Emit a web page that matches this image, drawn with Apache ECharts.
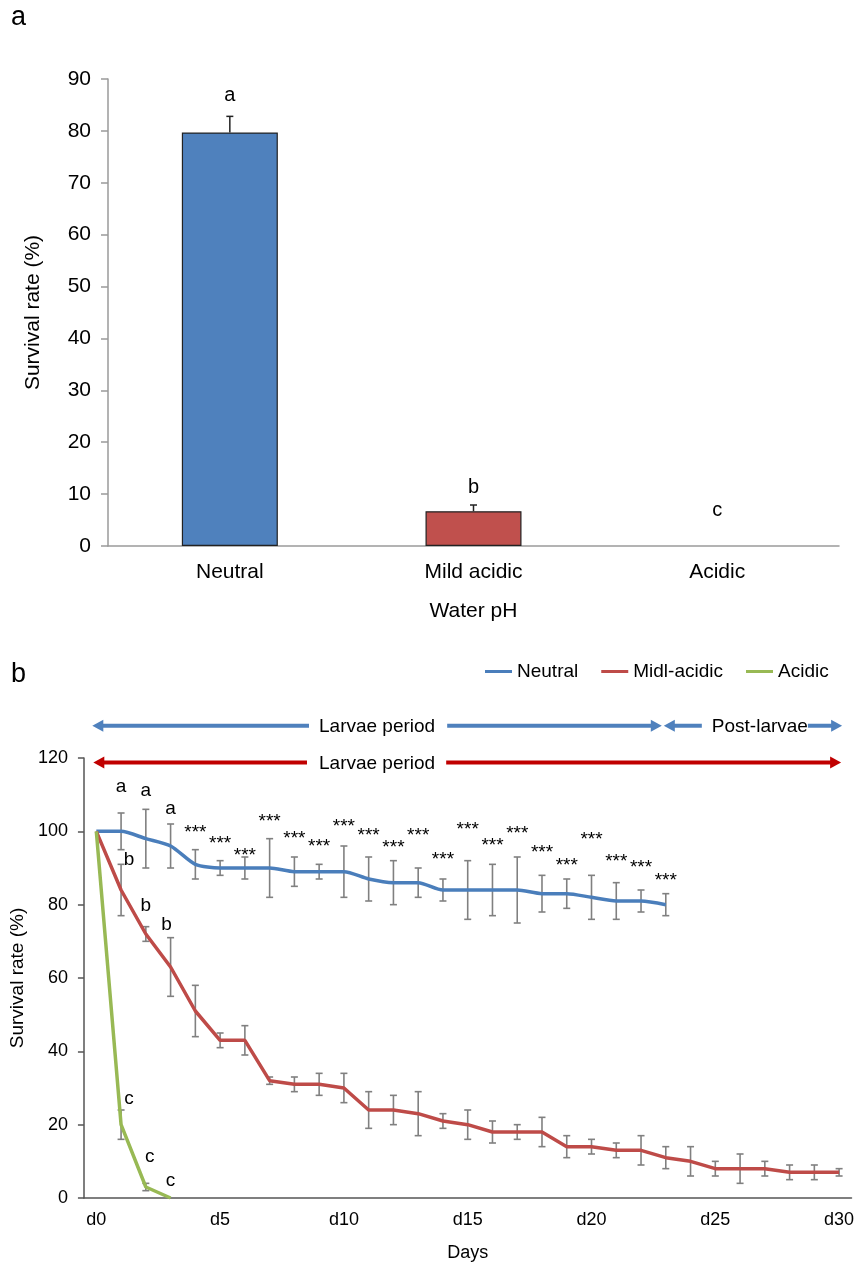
<!DOCTYPE html>
<html><head><meta charset="utf-8">
<script src="https://cdn.jsdelivr.net/npm/echarts@6/dist/echarts.min.js"></script>
<style>html,body{margin:0;padding:0;background:#fff}#c{width:857px;height:1268px}</style>
</head><body><div id="c"></div>
<script>
// ---------- Panel a data ----------
const phCategories = ['Neutral', 'Mild acidic', 'Acidic'];
const phSurvival = [79.7, 6.7, 0];
const phError = [3.1, 1.2, 0];
const phLetters = ['a', 'b', 'c'];
const phLetterHeights = [87.2, 11.6, 7.2];

// ---------- Panel b data ----------
const days = ['d0','d1','d2','d3','d4','d5','d6','d7','d8','d9','d10','d11','d12','d13','d14','d15',
  'd16','d17','d18','d19','d20','d21','d22','d23','d24','d25','d26','d27','d28','d29','d30'];
const neutral = [100,100,98,96,91,90,90,90,89,89,89,87,86,86,84,84,84,84,83,83,82,81,81,80];
const neutralErr = [0,5,8,6,4,2,3,8,4,2,7,6,6,4,3,8,7,9,5,4,6,5,3,3];
const mildAcidic = [100,84,72,63,51,43,43,32,31,31,30,24,24,23,21,20,18,18,18,14,14,13,13,11,10,8,8,8,7,7,7];
const mildAcidicErr = [0,7,2,8,7,2,4,1,2,3,4,5,4,6,2,4,3,2,4,3,2,2,4,3,4,2,4,2,2,2,1];
const acidic = [100,20,3,0];
const acidicErr = [0,4,1,0];

// significance annotations: [day index, height in %, text]
const neutralMarks = [[1,112.7,'a'],[2,111.4,'a'],[3,106.5,'a'],
  [4,100.9,'***'],[5,98,'***'],[6,94.7,'***'],[7,104,'***'],[8,99.4,'***'],[9,97.1,'***'],
  [10,102.7,'***'],[11,100.2,'***'],[12,96.8,'***'],[13,100.2,'***'],[14,93.6,'***'],
  [15,101.8,'***'],[16,97.5,'***'],[17,100.7,'***'],[18,95.5,'***'],[19,92.1,'***'],
  [20,99.1,'***'],[21,93.2,'***'],[22,91.5,'***'],[23,87.9,'***']];
const mildMarks = [[1,92.7,'b'],[2,80.2,'b'],[3,75,'b']];
const acidicMarks = [[1,27.6,'c'],[2,11.6,'c'],[3,5,'c']];

// period arrows: [from day, to day, height %, label, label centre (day units), colour]
const periodArrows = [
  [0, 23, 128.8, 'Larvae period', 11.34, '#4F81BD'],
  [23, 30, 128.8, 'Post-larvae', 26.8, '#4F81BD'],
  [0, 30, 118.8, 'Larvae period', 11.34, '#C00000']
];

// ---------- styles ----------
const FONT = 'Arial, "Liberation Sans", sans-serif';
const C_BLUE = '#4A7EBB', C_RED = '#BE4B48', C_GREEN = '#98B954';
const markNudge = { 'b1': 8, 'c1': 8, 'c2': 4, 'b3': -4 };
const arrowNudge = [[-4, -4], [-2, 3], [-3, 2]];
const arrowGaps = [[10, 12], [10, 0], [12, 11]];

const chart = echarts.init(document.getElementById('c'), null, {renderer: 'canvas'});

function errSeries(xi, yi, vals, errs, color, cap, upperOnly, width, z) {
  return {
    type: 'custom', xAxisIndex: xi, yAxisIndex: yi, silent: true, z: z,
    data: vals.map((v, i) => [i, v, errs[i]]),
    renderItem: (params, api) => {
      const i = api.value(0), v = api.value(1), e = api.value(2);
      if (!e) return null;
      const top = api.coord([i, v + e]);
      const bot = api.coord([i, upperOnly ? v : v - e]);
      const hw = cap / 2;
      const st = {stroke: color, lineWidth: width};
      const ch = [
        {type: 'line', shape: {x1: top[0], y1: top[1], x2: bot[0], y2: bot[1]}, style: st},
        {type: 'line', shape: {x1: top[0] - hw, y1: top[1], x2: top[0] + hw, y2: top[1]}, style: st}
      ];
      if (!upperOnly) ch.push({type: 'line', shape: {x1: bot[0] - hw, y1: bot[1], x2: bot[0] + hw, y2: bot[1]}, style: st});
      return {type: 'group', children: ch};
    }
  };
}

function textSeries(xi, yi, items, fontSize, keyPrefix) {
  return {
    type: 'custom', xAxisIndex: xi, yAxisIndex: yi, silent: true, z: 10,
    data: items.map(it => [it[0], it[1]]),
    renderItem: (params, api) => {
      const it = items[params.dataIndex];
      const p = api.coord([api.value(0), api.value(1)]);
      const star = it[2] === '***';
      const dx = keyPrefix ? (markNudge[keyPrefix + it[0]] || 0) : 0;
      return {type: 'text', x: p[0] + dx, y: p[1] + (star ? 5 : 1.5),
        style: {text: it[2], font: (star ? 19 : fontSize) + 'px ' + FONT, fill: '#000',
          align: 'center', verticalAlign: 'middle'}};
    }
  };
}

const option = {
  animation: false,
  backgroundColor: '#fff',
  textStyle: {fontFamily: FONT},
  legend: {
    data: ['Neutral', 'Midl-acidic', 'Acidic'], left: 480, top: 657,
    icon: 'rect', itemWidth: 27, itemHeight: 3, itemGap: 23,
    textStyle: {fontSize: 19, fontFamily: FONT, color: '#000'}
  },
  grid: [
    {left: 108, right: 18, top: 79, bottom: 722},
    {left: 82, right: 0, top: 758, bottom: 70}
  ],
  xAxis: [
    {type: 'category', gridIndex: 0, data: phCategories,
      axisLine: {lineStyle: {color: '#9a9a9a', width: 1.5}},
      axisTick: {length: 6, lineStyle: {color: '#9a9a9a', width: 1.5}},
      axisLabel: {fontSize: 21, color: '#000', margin: 16, fontFamily: FONT},
      name: 'Water pH', nameLocation: 'middle', nameGap: 55,
      nameTextStyle: {fontSize: 21, color: '#000', fontFamily: FONT}},
    {type: 'category', gridIndex: 1, data: days,
      axisLine: {lineStyle: {color: '#555', width: 1.5}},
      axisTick: {interval: 0, length: 6, lineStyle: {color: '#555', width: 1.5}},
      axisLabel: {interval: 4, fontSize: 18, color: '#000', margin: 13, fontFamily: FONT},
      name: 'Days', nameLocation: 'middle', nameGap: 46,
      nameTextStyle: {fontSize: 18, color: '#000', fontFamily: FONT}}
  ],
  yAxis: [
    {type: 'value', gridIndex: 0, min: 0, max: 90, interval: 10,
      splitLine: {show: false},
      axisLine: {show: true, lineStyle: {color: '#9a9a9a', width: 1.5}},
      axisTick: {show: true, length: 7, lineStyle: {color: '#9a9a9a', width: 1.5}},
      axisLabel: {fontSize: 21, color: '#000', margin: 17, fontFamily: FONT},
      name: 'Survival rate (%)', nameLocation: 'middle', nameGap: 64, nameRotate: 90,
      nameTextStyle: {fontSize: 21, color: '#000', fontFamily: FONT}},
    {type: 'value', gridIndex: 1, min: 0, max: 120, interval: 20,
      splitLine: {show: false},
      axisLine: {show: true, lineStyle: {color: '#555', width: 1.5}},
      axisTick: {show: true, length: 6, lineStyle: {color: '#555', width: 1.5}},
      axisLabel: {fontSize: 18, color: '#000', margin: 16, fontFamily: FONT},
      name: 'Survival rate (%)', nameLocation: 'middle', nameGap: 51, nameRotate: 90,
      nameTextStyle: {fontSize: 19, color: '#000', fontFamily: FONT}}
  ],
  series: [
    {type: 'bar', xAxisIndex: 0, yAxisIndex: 0, barWidth: 96, silent: true, z: 2,
      data: phSurvival.map((v, i) => ({value: v, itemStyle: {
        color: i === 0 ? '#4F81BD' : '#C0504D', borderColor: '#222', borderWidth: v > 0 ? 1.2 : 0}}))},
    errSeries(0, 0, phSurvival, phError, '#222', 7, true, 1.5, 3),
    textSeries(0, 0, phLetters.map((t, i) => [i, phLetterHeights[i], t]), 20, null),

    errSeries(1, 1, neutral, neutralErr, '#808080', 7, false, 1.6, 2),
    errSeries(1, 1, mildAcidic, mildAcidicErr, '#808080', 7, false, 1.6, 2),
    errSeries(1, 1, acidic, acidicErr, '#808080', 7, false, 1.6, 2),
    {name: 'Neutral', type: 'line', xAxisIndex: 1, yAxisIndex: 1, data: neutral, symbol: 'none',
      smooth: 0.25, color: C_BLUE, lineStyle: {width: 3.5, color: C_BLUE}, z: 4},
    {name: 'Midl-acidic', type: 'line', xAxisIndex: 1, yAxisIndex: 1, data: mildAcidic, symbol: 'none',
      color: C_RED, lineStyle: {width: 3.5, color: C_RED}, z: 4},
    {name: 'Acidic', type: 'line', xAxisIndex: 1, yAxisIndex: 1, data: acidic, symbol: 'none',
      color: C_GREEN, lineStyle: {width: 3.5, color: C_GREEN}, z: 4},
    textSeries(1, 1, neutralMarks, 19, 'a'),
    textSeries(1, 1, mildMarks, 19, 'b'),
    textSeries(1, 1, acidicMarks, 19, 'c')
  ]
};
chart.setOption(option);

// ---------- arrows and panel letters ----------
const ctx = document.createElement('canvas').getContext('2d');
ctx.font = '19px ' + FONT;
const p0 = chart.convertToPixel({gridIndex: 1}, ['d0', 0]);
const p1 = chart.convertToPixel({gridIndex: 1}, ['d1', 0]);
const step = p1[0] - p0[0];
const xAt = i => p0[0] + i * step;
const yAt = v => chart.convertToPixel({gridIndex: 1}, ['d0', v])[1];

const els = [
  {type: 'text', x: 11, y: 18, style: {text: 'a', font: '27px ' + FONT, fill: '#000', verticalAlign: 'middle'}},
  {type: 'text', x: 11, y: 675, style: {text: 'b', font: '27px ' + FONT, fill: '#000', verticalAlign: 'middle'}}
];
const AH = 11, AW = 6;
periodArrows.forEach((a, k) => {
  const [from, to, h, label, lc, color] = a;
  const xl = xAt(from) + arrowNudge[k][0], xr = xAt(to) + arrowNudge[k][1];
  const y = yAt(h);
  const tc = xAt(lc);
  const tw = ctx.measureText(label).width;
  const tl = tc - tw / 2, tr = tc + tw / 2;
  const st = {stroke: color, lineWidth: 4};
  els.push({type: 'line', shape: {x1: xl + AH - 1, y1: y, x2: tl - arrowGaps[k][0], y2: y}, style: st});
  els.push({type: 'line', shape: {x1: tr + arrowGaps[k][1], y1: y, x2: xr - AH + 1, y2: y}, style: st});
  els.push({type: 'polygon', shape: {points: [[xl, y], [xl + AH, y - AW], [xl + AH, y + AW]]}, style: {fill: color}});
  els.push({type: 'polygon', shape: {points: [[xr, y], [xr - AH, y - AW], [xr - AH, y + AW]]}, style: {fill: color}});
  els.push({type: 'text', x: tc, y: y + 1, z: 5, style: {text: label, font: '19px ' + FONT, fill: '#000',
    align: 'center', verticalAlign: 'middle'}});
});
chart.setOption({graphic: {elements: els}});
</script>
</body></html>
